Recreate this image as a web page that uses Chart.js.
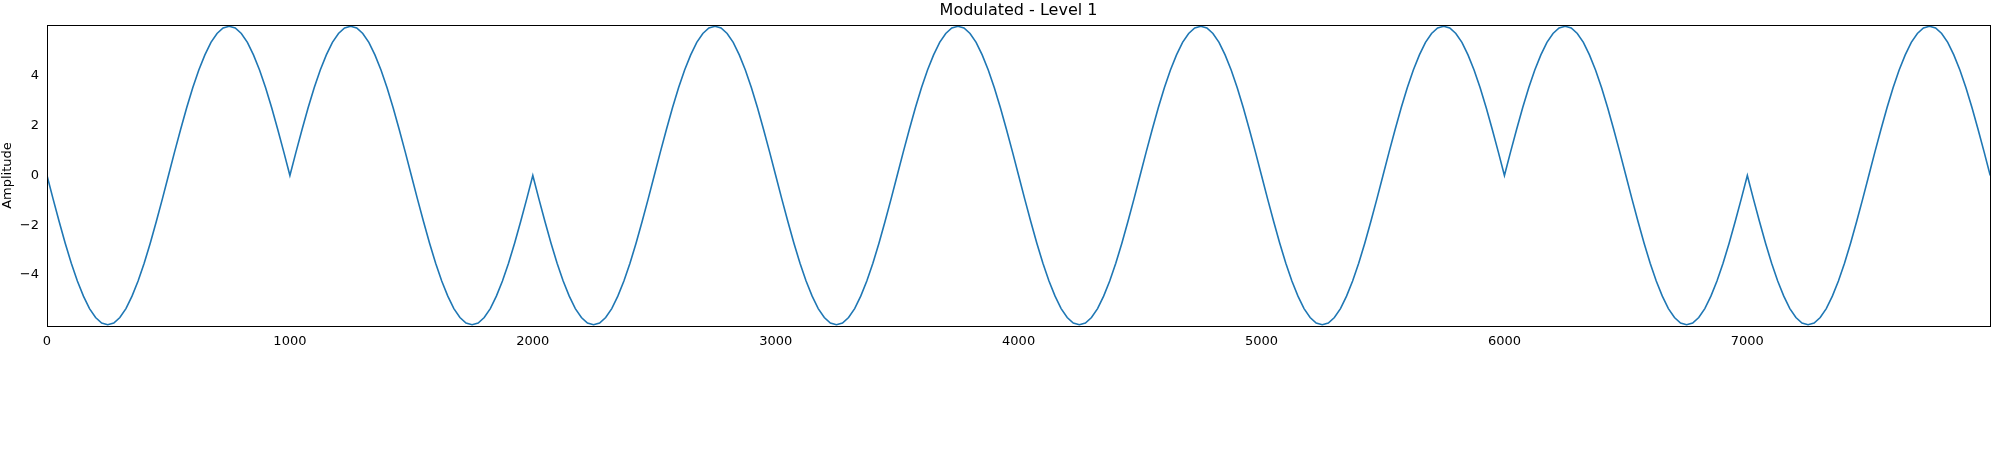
<!DOCTYPE html>
<html>
<head>
<meta charset="utf-8">
<script src="https://cdn.jsdelivr.net/npm/chart.js@4.4.1/dist/chart.umd.min.js"></script>
<style>
  body { margin: 0; background: #fff; }
  canvas { display: block; }
</style>
</head>
<body>
<canvas id="modChart" width="2007" height="451"></canvas>
<script>
// Symbol polarity of each 1000-sample block
const symbolSigns = [1, -1, 1, 1, 1, 1, -1, 1];
const symbolLength = 1000;
const sampleStep = 25;
const pulseShape = [
  0, -0.94, -1.85, -2.72, -3.53, -4.24, -4.85, -5.35, -5.71, -5.93, -6.0,
  -5.93, -5.71, -5.35, -4.85, -4.24, -3.53, -2.72, -1.85, -0.94, 0,
  0.94, 1.85, 2.72, 3.53, 4.24, 4.85, 5.35, 5.71, 5.93, 6.0,
  5.93, 5.71, 5.35, 4.85, 4.24, 3.53, 2.72, 1.85, 0.94, 0
];
const xTicks = [0, 1000, 2000, 3000, 4000, 5000, 6000, 7000];
const yTicks = [-4, -2, 0, 2, 4];

// build points from the symbol list
const points = [];
symbolSigns.forEach((s, i) => {
  pulseShape.forEach((v, k) => {
    if (k === 0 && i > 0) return;
    points.push({ x: i * symbolLength + k * sampleStep, y: s * v });
  });
});

const font = { family: 'DejaVu Sans', size: 13 };

const frame = {
  id: 'frame',
  afterDraw(chart) {
    const { ctx, chartArea: a } = chart;
    ctx.save();
    ctx.strokeStyle = '#000';
    ctx.lineWidth = 1;
    ctx.strokeRect(a.left + 0.5, a.top + 0.5, a.right - a.left, a.bottom - a.top);
    ctx.fillStyle = '#000';
    ctx.font = '16px DejaVu Sans';
    ctx.textAlign = 'center';
    ctx.textBaseline = 'bottom';
    ctx.fillText('Modulated - Level 1', (a.left + a.right) / 2, a.top - 6);
    ctx.restore();
  }
};

new Chart(document.getElementById('modChart'), {
  type: 'line',
  data: {
    datasets: [{
      data: points,
      borderColor: '#1f77b4',
      borderWidth: 1.6,
      pointRadius: 0,
      tension: 0,
      fill: false
    }]
  },
  options: {
    responsive: false,
    animation: false,
    layout: { padding: { top: 25, right: 17 } },
    plugins: { legend: { display: false }, tooltip: { enabled: false } },
    scales: {
      x: {
        type: 'linear', min: 0, max: 7999,
        afterBuildTicks: sc => { sc.ticks = xTicks.map(v => ({ value: v })); },
        afterFit: sc => { sc.height = 125; },
        grid: { display: false, drawTicks: true, tickLength: 5 },
        border: { color: '#000' },
        ticks: { color: '#000', font, maxRotation: 0, padding: 3, callback: v => String(v) }
      },
      y: {
        min: -6.05, max: 6.05,
        afterBuildTicks: sc => { sc.ticks = yTicks.map(v => ({ value: v })); },
        afterFit: sc => { sc.width = 47; },
        grid: { display: false, tickLength: 5 },
        border: { color: '#000' },
        title: { display: true, text: 'Amplitude', color: '#000', font, padding: 0 },
        ticks: { color: '#000', font, padding: 3, callback: v => String(v).replace('-', '\u2212') }
      }
    }
  },
  plugins: [frame]
});
</script>
</body>
</html>
